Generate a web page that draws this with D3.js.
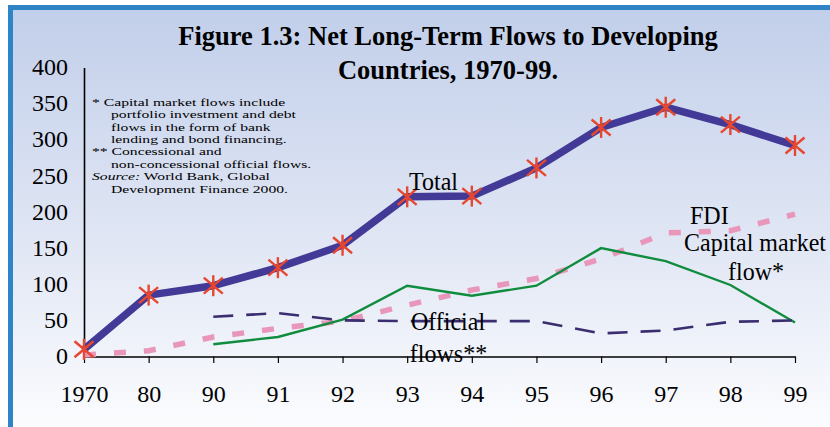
<!DOCTYPE html>
<html>
<head>
<meta charset="utf-8">
<script src="https://cdn.jsdelivr.net/npm/d3@7"></script>
<style>
  html, body { margin: 0; padding: 0; background: #ffffff; }
  svg { display: block; }
  text { font-family: "Liberation Serif", "Times New Roman", serif; fill: #000; }
</style>
</head>
<body>
<div id="chart"></div>
<script>
// Net long-term flows to developing countries, US$ billions
const years = ["1970", "80", "90", "91", "92", "93", "94", "95", "96", "97", "98", "99"];
const totalFlows = [10, 85, 98, 123, 154, 221, 222, 261, 317, 345, 321, 292];
const fdiFlows = [2, 8, 27, 39, 49, 71, 92, 108, 135, 171, 174, 197];
const capitalMarketFlows = [null, null, 17, 27, 51, 98, 84, 98, 150, 132, 99, 47];
const officialFlows = [null, null, 55, 60, 50, 49, 49, 49, 32, 36, 48, 50];
const yTicks = [0, 50, 100, 150, 200, 250, 300, 350, 400];

const titleLines = ["Figure 1.3: Net Long-Term Flows to Developing", "Countries, 1970-99."];
const noteLines = [
  { indent: false, parts: [{ t: "* Capital market flows include" }] },
  { indent: true, parts: [{ t: "portfolio investment and debt" }] },
  { indent: true, parts: [{ t: "flows in the form of bank" }] },
  { indent: true, parts: [{ t: "lending and bond financing." }] },
  { indent: false, parts: [{ t: "** Concessional and" }] },
  { indent: true, parts: [{ t: "non-concessional official flows." }] },
  { indent: false, parts: [{ t: "Source:", italic: true }, { t: " World Bank, Global" }] },
  { indent: true, parts: [{ t: "Development Finance 2000." }] }
];

const W = 830, H = 427;
const svg = d3.select("#chart").append("svg").attr("width", W).attr("height", H);

// Background panel with a soft blue-to-white vertical gradient
const defs = svg.append("defs");
const grad = defs.append("linearGradient").attr("id", "bg").attr("x1", 0).attr("y1", 0).attr("x2", 0).attr("y2", 1);
grad.append("stop").attr("offset", "0%").attr("stop-color", "#c2cfea");
grad.append("stop").attr("offset", "55%").attr("stop-color", "#e0e6f4");
grad.append("stop").attr("offset", "100%").attr("stop-color", "#fbfcfe");

svg.append("rect").attr("x", 8).attr("y", 5).attr("width", W - 8).attr("height", H - 5).attr("fill", "#2f84c8");
svg.append("rect").attr("x", 13).attr("y", 10).attr("width", W - 13).attr("height", H - 10).attr("fill", "url(#bg)");

// Scales
const x = d3.scalePoint().domain(years).range([84, 795]).padding(0);
const y = d3.scaleLinear().domain([0, 400]).range([356.5, 67.5]);

// Title
svg.append("g").selectAll("text").data(titleLines).join("text")
  .attr("x", 448).attr("y", (d, i) => 45 + i * 33.5)
  .attr("text-anchor", "middle")
  .style("font-size", "26.5px").style("font-weight", "bold")
  .text(d => d);

// Axes
const axisG = svg.append("g");
const xAxis = d3.axisBottom(x).tickSize(6.5).tickPadding(22).tickSizeOuter(0);
const gx = axisG.append("g").attr("transform", `translate(0,${y(0)})`).call(xAxis);
gx.select(".domain").attr("stroke", "#000").attr("stroke-width", 1.6);
gx.selectAll(".tick line").attr("stroke", "#000").attr("stroke-width", 1.2);
gx.selectAll(".tick text").style("font-size", "24px").attr("fill", "#000")
  .style("font-family", "'Liberation Serif', serif");

const yAxis = d3.axisLeft(y).tickValues(yTicks).tickSize(0).tickPadding(16).tickSizeOuter(0);
const gy = axisG.append("g").attr("transform", `translate(${x(years[0])},0)`).call(yAxis);
gy.select(".domain").attr("stroke", "#000").attr("stroke-width", 1.6);
gy.selectAll(".tick text").style("font-size", "24px").attr("fill", "#000")
  .style("font-family", "'Liberation Serif', serif").attr("dy", "0.3em");

// Footnotes block: compact lines, widened horizontally
const notes = svg.append("g");
noteLines.forEach((ln, i) => {
  const t = notes.append("text")
    .attr("transform", `translate(${ln.indent ? 111 : 92},${105.7 + i * 12.4}) scale(1.4,1)`)
    .style("font-size", "11.2px");
  ln.parts.forEach(p => {
    t.append("tspan").style("font-style", p.italic ? "italic" : "normal").text(p.t);
  });
});

// Series lines
const lineGen = d3.line()
  .defined(d => d.v !== null)
  .x(d => x(d.k))
  .y(d => y(d.v));
const seriesData = arr => years.map((k, i) => ({ k, v: arr[i] }));

svg.append("path").datum(seriesData(fdiFlows))
  .attr("d", lineGen).attr("fill", "none")
  .attr("stroke", "#e897ba").attr("stroke-width", 5.5).attr("stroke-dasharray", "12,18");

svg.append("path").datum(seriesData(capitalMarketFlows))
  .attr("d", lineGen).attr("fill", "none")
  .attr("stroke", "#0f8c3e").attr("stroke-width", 2.4);

svg.append("path").datum(seriesData(officialFlows))
  .attr("d", lineGen).attr("fill", "none")
  .attr("stroke", "#3a2e70").attr("stroke-width", 2.6).attr("stroke-dasharray", "20,13");

svg.append("path").datum(seriesData(totalFlows))
  .attr("d", lineGen).attr("fill", "none")
  .attr("stroke", "#423a96").attr("stroke-width", 7.5).attr("stroke-linejoin", "round");

// Asterisk markers on the total series
const starArms = [[0, -10.5, 0, 10.5], [-9.5, -8, 9.5, 8], [-9.5, 8, 9.5, -8]];
const stars = svg.append("g").selectAll("g").data(seriesData(totalFlows)).join("g")
  .attr("transform", d => `translate(${x(d.k)},${y(d.v)})`);
stars.selectAll("line").data(starArms).join("line")
  .attr("x1", a => a[0]).attr("y1", a => a[1]).attr("x2", a => a[2]).attr("y2", a => a[3])
  .attr("stroke", "#e8472f").attr("stroke-width", 2.4);

// Series labels
const labels = [
  { t: "Total", x: 409, y: 189.5, anchor: "start" },
  { t: "FDI", x: 690, y: 224, anchor: "start" },
  { t: "Capital market", x: 755, y: 251, anchor: "middle" },
  { t: "flow*", x: 756, y: 279.5, anchor: "middle" },
  { t: "Official", x: 448, y: 330, anchor: "middle" },
  { t: "flows**", x: 448.5, y: 362, anchor: "middle" }
];
svg.append("g").selectAll("text").data(labels).join("text")
  .attr("transform", d => `translate(${d.x},${d.y}) scale(1,1.08)`)
  .attr("text-anchor", d => d.anchor)
  .style("font-size", "24px")
  .text(d => d.t);
</script>
</body>
</html>
